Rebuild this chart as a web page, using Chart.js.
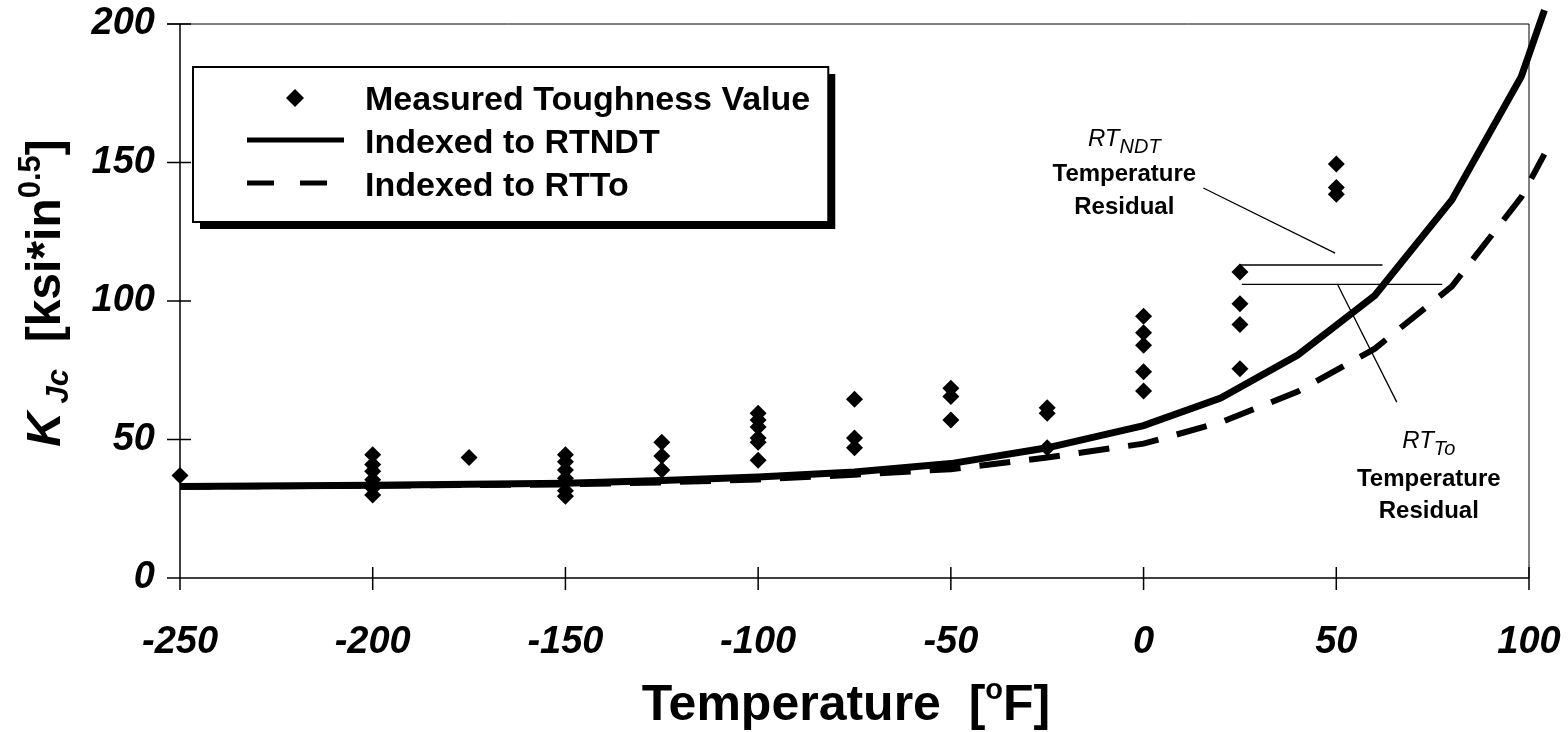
<!DOCTYPE html>
<html>
<head>
<meta charset="utf-8">
<script src="https://cdn.jsdelivr.net/npm/chart.js@4.4.1/dist/chart.umd.min.js"></script>
<style>
  html, body { margin: 0; padding: 0; background: #fff; }
</style>
</head>
<body>
<canvas id="chart" width="1568" height="732"></canvas>
<script>
// measured toughness values (temperature in F, KJc in ksi*in^0.5)
const measuredTemp = [
  -250,
  -200, -200, -200, -200, -200, -200,
  -175,
  -150, -150, -150, -150, -150, -150,
  -125, -125, -125,
  -100, -100, -100, -100, -100, -100,
  -75, -75, -75,
  -50, -50, -50,
  -25, -25, -25,
  0, 0, 0, 0, 0,
  25, 25, 25, 25,
  50, 50, 50
];
const measuredKJc = [
  37,
  44.5, 41, 38.5, 35.5, 32.5, 30,
  43.5,
  44.5, 42, 39, 36, 31.5, 29.5,
  49, 44, 39,
  59.5, 57, 54.5, 50.5, 49, 42.5,
  64.5, 50.5, 47,
  68.5, 65.5, 57,
  61.5, 59.5, 47,
  94.5, 88.5, 84, 74.5, 67.5,
  110.5, 99, 91.5, 75.5,
  149.5, 141, 138.5
];

// curves (they run a little past the right edge of the plot)
const curveTemp = [-250, -200, -150, -125, -100, -75, -50, -25, 0, 20, 40, 60, 80, 98, 104];
const ndtKJc    = [33, 33.5, 34.2, 35.2, 36.5, 38.3, 41.3, 47, 55, 65, 80.5, 102, 136.5, 181, 205];
const toKJc     = [33, 33.3, 33.8, 34.5, 35.6, 37.3, 39.3, 43.5, 48.5, 56.2, 67.3, 82.8, 105.3, 137.5, 153];

// axis ticks
const xTicks = [-250, -200, -150, -100, -50, 0, 50, 100];
const yTicks = [0, 50, 100, 150, 200];

// residual annotation lines, [T, KJc] pairs
const ndtResidual = [[25, 113], [62, 113]];
const toResidual  = [[25.5, 106], [77.5, 106]];
const ndtLeader   = [[15.5, 140.8], [49.7, 117.3]];
const toLeader    = [[50.4, 105.8], [65.7, 63.5]];

const FONT = '"Liberation Sans", Arial, sans-serif';

function toPoints(xs, ys) {
  return xs.map((v, i) => ({ x: v, y: ys[i] }));
}

// draws text made of several runs (font / vertical shift)
function drawRuns(ctx, runs, x, y, align) {
  let total = 0;
  runs.forEach(r => { ctx.font = r.font; r.w = ctx.measureText(r.text).width; total += r.w; });
  let cx = align === 'center' ? x - total / 2 : x;
  ctx.textAlign = 'left';
  ctx.textBaseline = 'alphabetic';
  runs.forEach(r => {
    ctx.font = r.font;
    ctx.fillText(r.text, cx, y + (r.dy || 0));
    cx += r.w;
  });
}

const decor = {
  id: 'decor',
  beforeDatasetsDraw(chart) {
    const { ctx, chartArea: a, scales: { x, y } } = chart;
    ctx.save();
    ctx.strokeStyle = '#000';
    // plot frame
    ctx.lineWidth = 1;
    ctx.beginPath();
    ctx.moveTo(a.left - 13, a.top);
    ctx.lineTo(a.right, a.top);
    ctx.lineTo(a.right, a.bottom);
    ctx.stroke();
    // axes and cross ticks
    ctx.lineWidth = 1.5;
    ctx.beginPath();
    ctx.moveTo(a.left, a.top);
    ctx.lineTo(a.left, a.bottom + 12);
    ctx.moveTo(a.left - 13, a.bottom);
    ctx.lineTo(a.right, a.bottom);
    yTicks.forEach(v => {
      const py = y.getPixelForValue(v);
      ctx.moveTo(a.left - 13, py);
      ctx.lineTo(a.left + 11, py);
    });
    xTicks.forEach(v => {
      const px = x.getPixelForValue(v);
      ctx.moveTo(px, a.bottom - 11);
      ctx.lineTo(px, a.bottom + 12);
    });
    ctx.stroke();
    ctx.restore();
  },
  afterDraw(chart) {
    const { ctx, chartArea: a, scales: { x, y } } = chart;
    ctx.save();
    ctx.fillStyle = '#000';
    ctx.strokeStyle = '#000';

    // residual lines
    ctx.lineWidth = 1.3;
    [ndtResidual, toResidual, ndtLeader, toLeader].forEach(seg => {
      ctx.beginPath();
      ctx.moveTo(x.getPixelForValue(seg[0][0]), y.getPixelForValue(seg[0][1]));
      ctx.lineTo(x.getPixelForValue(seg[1][0]), y.getPixelForValue(seg[1][1]));
      ctx.stroke();
    });

    // residual labels
    const lab = (t, k, sub, d1, d2) => {
      const px = x.getPixelForValue(t), py = y.getPixelForValue(k);
      drawRuns(ctx, [
        { text: 'RT', font: 'italic 24px ' + FONT },
        { text: sub, font: 'italic 20px ' + FONT, dy: 7 }
      ], px, py, 'center');
      drawRuns(ctx, [{ text: 'Temperature', font: 'bold 24px ' + FONT }], px, py + d1, 'center');
      drawRuns(ctx, [{ text: 'Residual', font: 'bold 24px ' + FONT }], px, py + d2, 'center');
    };
    lab(-5, 156, 'NDT', 35, 68);
    lab(74, 47, 'To', 38, 70);

    // legend box
    ctx.font = 'bold 34px ' + FONT;
    const textX = 365;
    const boxL = 193, boxT = 67, boxB = 222;
    const boxR = textX + ctx.measureText('Measured Toughness Value').width + 18;
    ctx.fillRect(boxL + 7, boxT + 7, boxR - boxL, boxB - boxT);
    ctx.fillStyle = '#fff';
    ctx.fillRect(boxL, boxT, boxR - boxL, boxB - boxT);
    ctx.fillStyle = '#000';
    ctx.lineWidth = 2;
    ctx.strokeRect(boxL, boxT, boxR - boxL, boxB - boxT);

    ctx.beginPath();
    ctx.moveTo(295, 89); ctx.lineTo(304, 98); ctx.lineTo(295, 107); ctx.lineTo(286, 98);
    ctx.closePath();
    ctx.fill();
    ctx.lineWidth = 5;
    ctx.beginPath();
    ctx.moveTo(247, 140); ctx.lineTo(344, 140);
    ctx.stroke();
    ctx.setLineDash([27, 26]);
    ctx.beginPath();
    ctx.moveTo(247, 183); ctx.lineTo(328, 183);
    ctx.stroke();
    ctx.setLineDash([]);

    ctx.textAlign = 'left';
    ctx.textBaseline = 'alphabetic';
    ctx.font = 'bold 34px ' + FONT;
    ctx.fillText('Measured Toughness Value', textX, 110);
    ctx.fillText('Indexed to RTNDT', textX, 153);
    ctx.fillText('Indexed to RTTo', textX, 196);

    // x axis title
    drawRuns(ctx, [
      { text: 'Temperature  [', font: 'bold 50px ' + FONT },
      { text: 'o', font: 'bold 29px ' + FONT, dy: -21 },
      { text: 'F]', font: 'bold 50px ' + FONT }
    ], 846, 720, 'center');

    // y axis title (rotated)
    ctx.translate(60, 293);
    ctx.rotate(-Math.PI / 2);
    drawRuns(ctx, [
      { text: 'K', font: 'bold italic 48px ' + FONT },
      { text: ' Jc', font: 'bold italic 31px ' + FONT, dy: 8 },
      { text: '  [ksi*in', font: 'bold 48px ' + FONT },
      { text: '0.5', font: 'bold 31px ' + FONT, dy: -20 },
      { text: ']', font: 'bold 48px ' + FONT }
    ], 0, 0, 'center');
    ctx.restore();
  }
};

new Chart(document.getElementById('chart'), {
  type: 'scatter',
  data: {
    datasets: [
      {
        label: 'Measured Toughness Value',
        data: toPoints(measuredTemp, measuredKJc),
        pointStyle: 'rectRot',
        pointRadius: 8.5,
        backgroundColor: '#000',
        borderColor: '#000',
        borderWidth: 0,
        showLine: false,
        clip: false
      },
      {
        label: 'Indexed to RTNDT',
        data: toPoints(curveTemp, ndtKJc),
        showLine: true,
        borderColor: '#000',
        borderWidth: 7,
        pointRadius: 0,
        tension: 0,
        clip: false
      },
      {
        label: 'Indexed to RTTo',
        data: toPoints(curveTemp, toKJc),
        showLine: true,
        borderColor: '#000',
        borderWidth: 6,
        borderDash: [31, 19],
        pointRadius: 0,
        tension: 0,
        clip: false
      }
    ]
  },
  options: {
    responsive: false,
    animation: false,
    devicePixelRatio: 1,
    layout: { padding: { left: 0, top: 24, right: 39, bottom: 0 } },
    plugins: {
      legend: { display: false },
      tooltip: { enabled: false }
    },
    scales: {
      x: {
        type: 'linear',
        min: -250,
        max: 100,
        afterBuildTicks: s => { s.ticks = xTicks.map(v => ({ value: v })); },
        afterFit: s => { s.height = 154; s.paddingLeft = 0; s.paddingRight = 0; },
        grid: { display: false },
        border: { display: false },
        ticks: {
          color: '#000',
          padding: 34,
          maxRotation: 0,
          autoSkip: false,
          font: { family: FONT, size: 38, weight: 'bold', style: 'italic' }
        }
      },
      y: {
        min: 0,
        max: 200,
        afterBuildTicks: s => { s.ticks = yTicks.map(v => ({ value: v })); },
        afterFit: s => { s.width = 180; s.paddingTop = 0; s.paddingBottom = 0; },
        grid: { display: false },
        border: { display: false },
        ticks: {
          color: '#000',
          padding: 17,
          font: { family: FONT, size: 38, weight: 'bold', style: 'italic' }
        }
      }
    }
  },
  plugins: [decor]
});
</script>
</body>
</html>
